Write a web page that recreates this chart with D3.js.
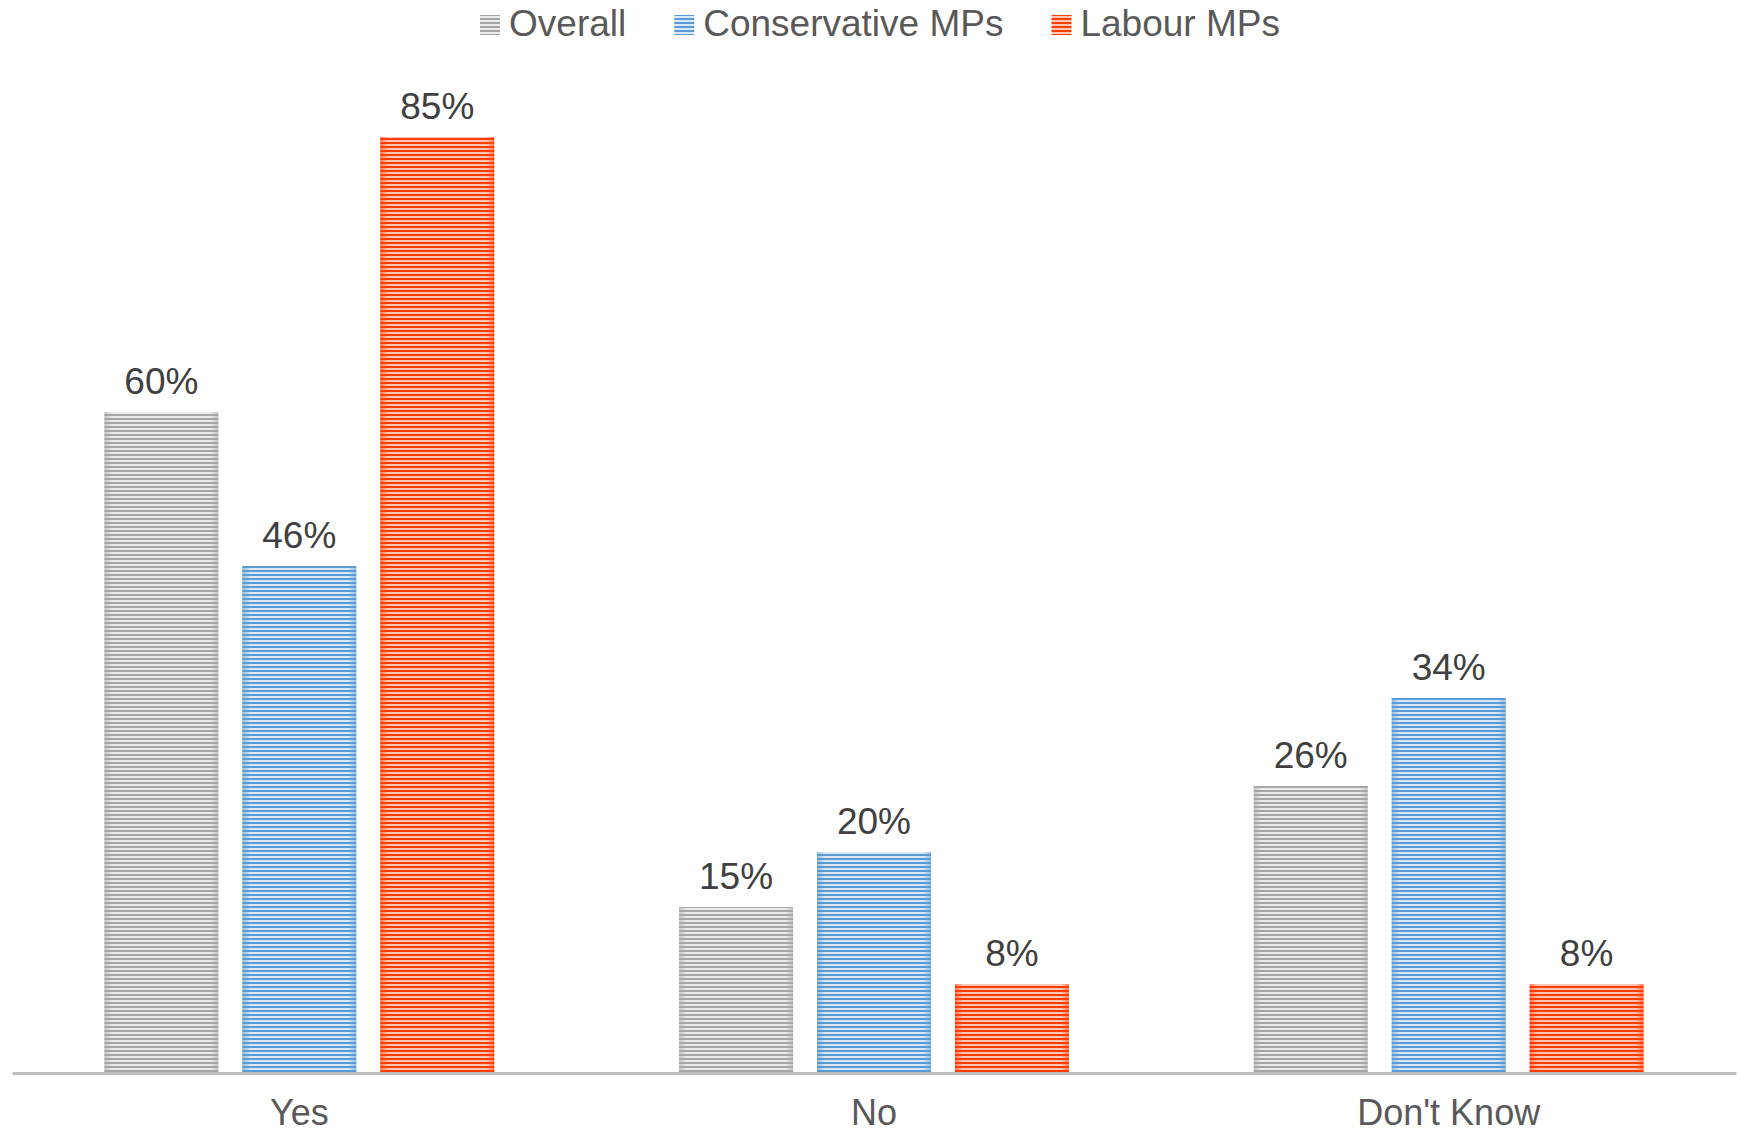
<!DOCTYPE html>
<html>
<head>
<meta charset="utf-8">
<script src="https://cdn.jsdelivr.net/npm/d3@7"></script>
<style>
  html, body { margin: 0; padding: 0; background: #ffffff; }
  svg { display: block; font-family: "Liberation Sans", Arial, sans-serif; }
</style>
</head>
<body>
<svg id="chart" width="1741" height="1134"></svg>
<script>
const categories = ["Yes", "No", "Don't Know"];
const seriesNames = ["Overall", "Conservative MPs", "Labour MPs"];
const overallValues = [60, 15, 26];
const conservativeValues = [46, 20, 34];
const labourValues = [85, 8, 8];
const seriesColors = ["#a6a6a6", "#5b9bd5", "#ff3d00"];
const seriesLight = ["#ececec", "#d9e8f6", "#ffc7b5"];

const seriesValues = [overallValues, conservativeValues, labourValues];

const baselineY = 1072;
const svg = d3.select("#chart");

const x0 = d3.scaleBand().domain(categories).range([12, 1736]).padding(0);
const x1 = d3.scaleBand().domain(seriesNames).range([0, x0.bandwidth()])
  .paddingInner(24 / 138).paddingOuter(0.67);
const y = d3.scaleLinear().domain([0, 85]).range([baselineY, 137]);

// patterns
const defs = svg.append("defs");
seriesNames.forEach((s, i) => {
  const p = defs.append("pattern")
    .attr("id", "pat" + i)
    .attr("patternUnits", "userSpaceOnUse")
    .attr("width", 8).attr("height", 4);
  p.append("rect").attr("width", 8).attr("height", 4).attr("fill", seriesLight[i]);
  p.append("rect").attr("y", 2).attr("width", 8).attr("height", 2).attr("fill", seriesColors[i]);
  const g = defs.append("linearGradient").attr("id", "edge" + i)
    .attr("x1", "0%").attr("x2", "100%").attr("y1", "0%").attr("y2", "0%");
  [[0, 0.55], [0.07, 0], [0.93, 0], [1, 0.55]].forEach(([o, a]) => {
    g.append("stop").attr("offset", o * 100 + "%")
      .attr("stop-color", seriesColors[i]).attr("stop-opacity", a);
  });
});

const rows = categories.map((c, ci) => ({
  cat: c,
  vals: seriesNames.map((s, si) => ({ s, si, v: seriesValues[si][ci] }))
}));

const groups = svg.append("g").selectAll("g").data(rows).join("g")
  .attr("transform", d => `translate(${x0(d.cat)},0)`);

groups.selectAll("rect.bar").data(d => d.vals).join("rect")
  .attr("class", "bar")
  .attr("x", d => x1(d.s))
  .attr("y", d => y(d.v))
  .attr("width", x1.bandwidth())
  .attr("height", d => y(0) - y(d.v))
  .attr("fill", d => `url(#pat${d.si})`);

groups.selectAll("rect.edge").data(d => d.vals).join("rect")
  .attr("class", "edge")
  .attr("x", d => x1(d.s))
  .attr("y", d => y(d.v))
  .attr("width", x1.bandwidth())
  .attr("height", d => y(0) - y(d.v))
  .attr("fill", d => `url(#edge${d.si})`);

groups.selectAll("text.lbl").data(d => d.vals).join("text")
  .attr("class", "lbl")
  .attr("x", d => x1(d.s) + x1.bandwidth() / 2)
  .attr("y", d => y(d.v) - 18)
  .attr("text-anchor", "middle")
  .attr("font-size", 37)
  .attr("fill", "#404040")
  .text(d => d.v + "%");

const xAxis = d3.axisBottom(x0).tickSize(0).tickPadding(0);
const axisG = svg.append("g").attr("transform", `translate(0,${baselineY + 1})`).call(xAxis);
axisG.select(".domain").attr("stroke", "#bfbfbf").attr("stroke-width", 3);
axisG.selectAll(".tick text")
  .attr("font-size", 36)
  .attr("fill", "#595959")
  .attr("font-family", "Liberation Sans, Arial, sans-serif")
  .attr("dy", null)
  .attr("y", 52);

// legend
const legend = svg.append("g");
let cx = 0;
seriesNames.forEach((s, i) => {
  const it = legend.append("g");
  it.append("rect").attr("x", 0).attr("y", 15).attr("width", 20).attr("height", 20)
    .attr("fill", `url(#pat${i})`);
  const t = it.append("text").attr("x", 29).attr("y", 36)
    .attr("font-size", 37).attr("fill", "#595959").text(s);
  const w = 29 + t.node().getComputedTextLength();
  it.attr("transform", `translate(${cx},0)`);
  cx += w + 48;
});
const totalW = cx - 48;
legend.attr("transform", `translate(${880 - totalW / 2},0)`);
</script>
</body>
</html>
